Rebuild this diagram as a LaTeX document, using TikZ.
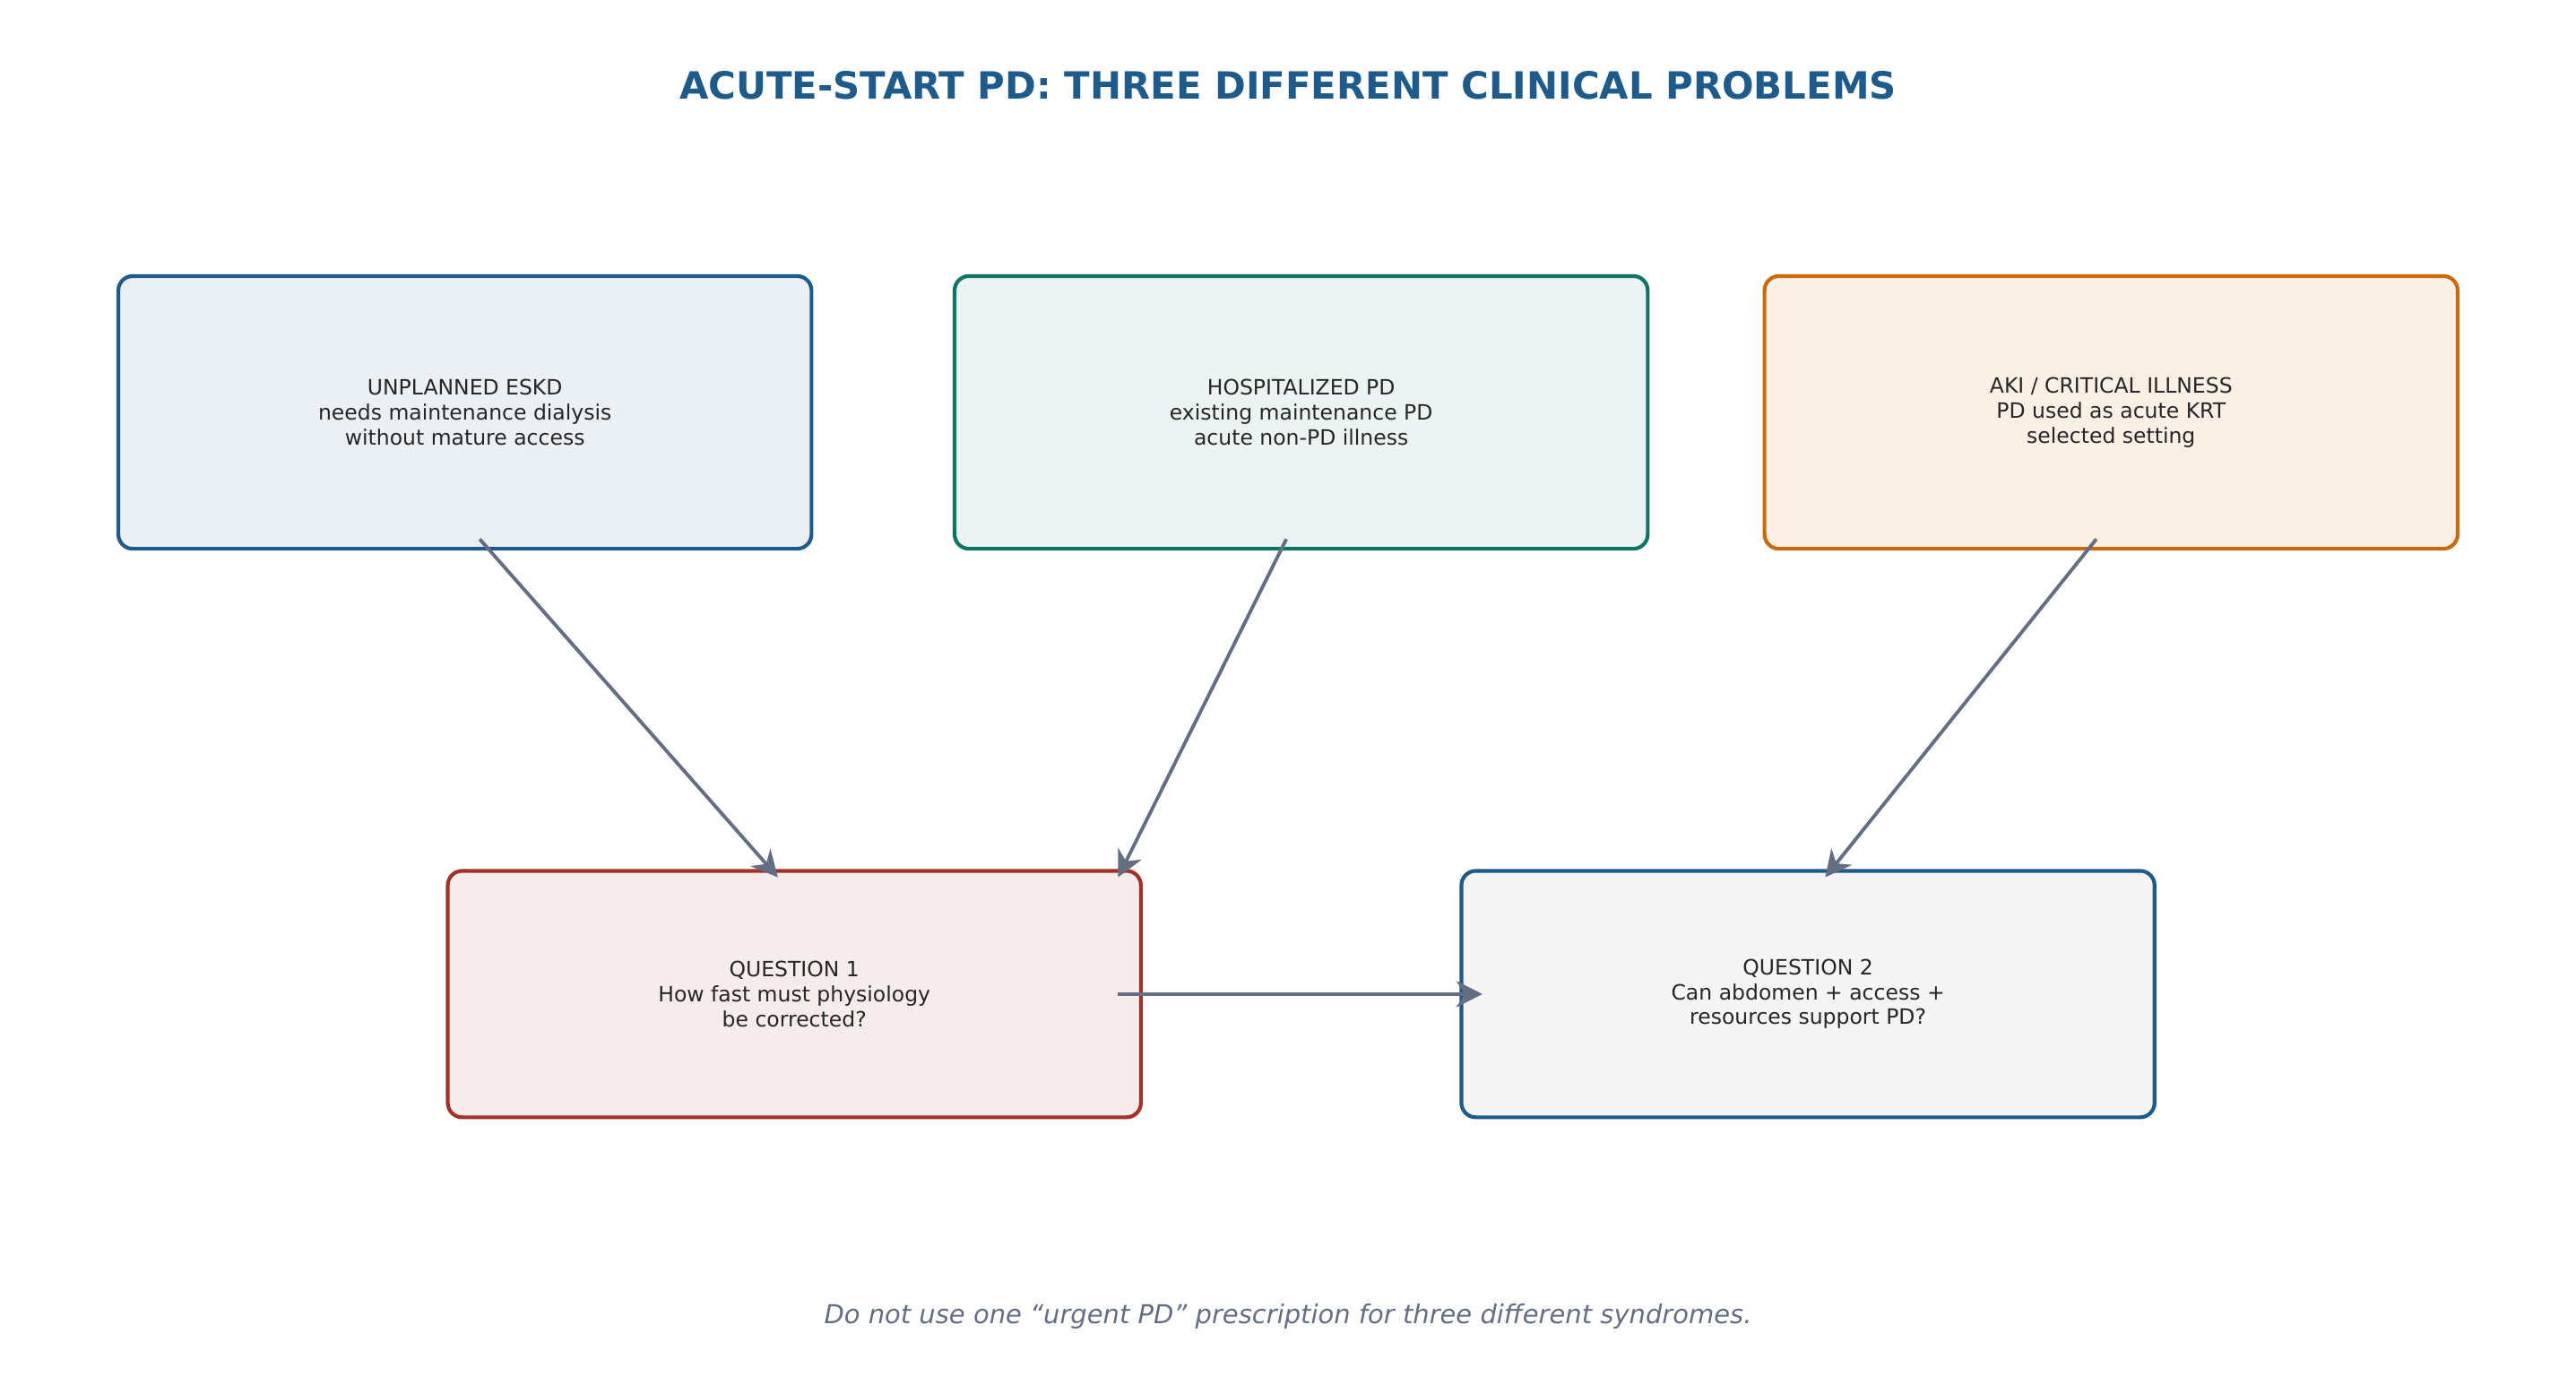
\documentclass[tikz,border=0pt]{standalone}
\usepackage{fontspec}
\setmainfont{DejaVu Sans}
\usetikzlibrary{arrows.meta, calc}
\definecolor{navy}{HTML}{1F5B8A}
\definecolor{teal}{HTML}{0F7366}
\definecolor{amber}{HTML}{C8690A}
\definecolor{brick}{HTML}{A23127}
\definecolor{slate}{HTML}{646E82}
\begin{document}
\begin{tikzpicture}[x=0.02cm, y=0.02cm,
            >={Stealth[width=3.2mm,length=3.2mm]},
                base/.style = {rectangle, rounded corners=5pt, line width=1.3pt,
                            minimum width=8.44cm, text centered, align=center,
                            font=\fontsize{7.3}{8.6}\selectfont, text=black!85},
                topbox/.style = {base, minimum height=3.32cm},
                lowbox/.style = {base, minimum height=3.0cm},
                link/.style = {->, draw=slate, line width=1.2pt}]
            \useasboundingbox (0,0) rectangle (1568,848);
            \node (Title) at (784,796) {\fontsize{13}{15}\selectfont\bfseries\color{navy}ACUTE-START PD: THREE DIFFERENT CLINICAL PROBLEMS};
            \node (Eskd) [topbox, draw=navy, fill=navy!9] at (283,597) {
                UNPLANNED ESKD\\needs maintenance dialysis\\without mature access
            };
            \node (Hosp) [topbox, draw=teal, fill=teal!8] at (792,597) {
                HOSPITALIZED PD\\existing maintenance PD\\acute non-PD illness
            };
            \node (Aki) [topbox, draw=amber, fill=amber!10] at (1285,597) {
                AKI / CRITICAL ILLNESS\\PD used as acute KRT\\selected setting
            };
            \node (QOne) [lowbox, draw=brick, fill=brick!9] at (483.5,243) {
                QUESTION 1\\How fast must physiology\\be corrected?
            };
            \node (QTwo) [lowbox, draw=navy, fill=black!4] at (1100.5,243) {
                QUESTION 2\\Can abdomen + access +\\resources support PD?
            };
            \node (Note) at (784,47) {\fontsize{9}{11}\selectfont\itshape\color{slate}Do not use one “urgent PD” prescription for three different syndromes.};
            \draw[link] ($(Eskd.south)+(9,7)$) -- ($(QOne.north)+(-10,-5)$);
            \draw[link] ($(Hosp.south)+(-9,7)$) -- ($(QOne.north east)+(-15,-5)$);
            \draw[link] ($(Aki.south)+(-9,7)$) -- ($(QTwo.north)+(10.5,-5)$);
            \draw[link] ($(QOne.east)+(-15,0)$) -- ($(QTwo.west)+(14,0)$);
        \end{tikzpicture}
\end{document}
